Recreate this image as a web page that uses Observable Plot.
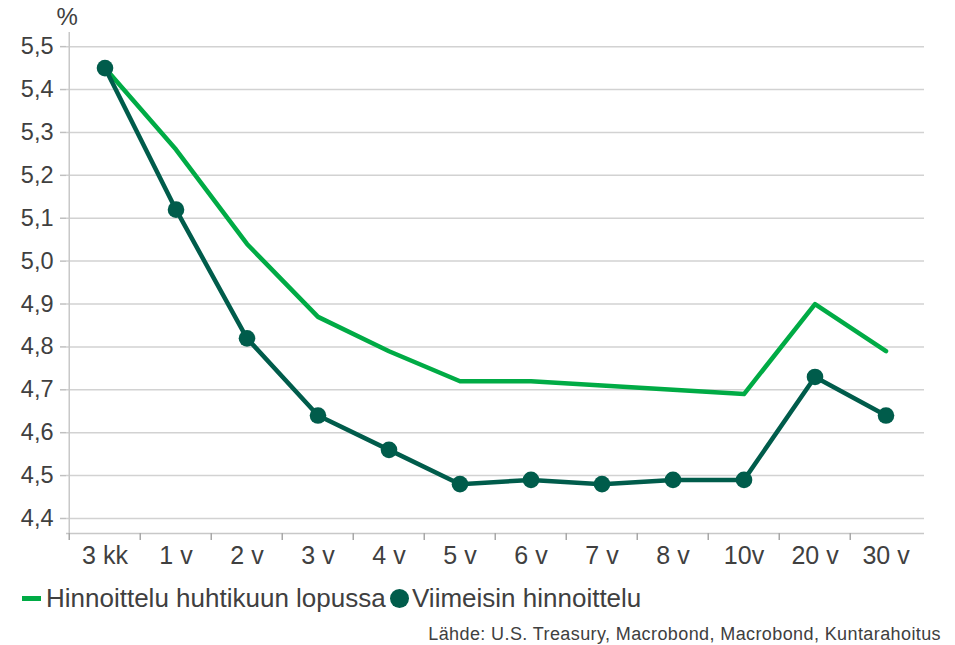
<!DOCTYPE html>
<html><head><meta charset="utf-8">
<script src="https://cdn.jsdelivr.net/npm/d3@7"></script>
<script src="https://cdn.jsdelivr.net/npm/@observablehq/plot@0.6"></script>
<style>
body{margin:0;background:#fff;font-family:"Liberation Sans",Arial,sans-serif;}
#wrap{position:relative;width:955px;height:645px;overflow:hidden;}
#chart{position:absolute;left:0;top:0;}
.leg{position:absolute;top:583px;font-size:26px;color:#404040;white-space:nowrap;line-height:30px;}
#sw1{position:absolute;left:22px;top:596px;width:19px;height:5px;background:#00ab45;}
#sw2{position:absolute;left:390px;top:589px;width:19px;height:19px;border-radius:50%;background:#005c4b;}
#source{position:absolute;right:14px;top:624px;font-size:18px;letter-spacing:0.4px;line-height:20px;color:#404040;white-space:nowrap;}
</style></head><body>
<div id="wrap">
<div id="chart"></div>
<div id="sw1"></div><div class="leg" style="left:46px">Hinnoittelu huhtikuun lopussa</div>
<div id="sw2"></div><div class="leg" style="left:412px">Viimeisin hinnoittelu</div>
<div id="source">Lähde: U.S. Treasury, Macrobond, Macrobond, Kuntarahoitus</div>
</div>
<script>
const maturities = ["3 kk","1 v","2 v","3 v","4 v","5 v","6 v","7 v","8 v","10v","20 v","30 v"];
const lateApril = [5.45,5.26,5.04,4.87,4.79,4.72,4.72,4.71,4.70,4.69,4.90,4.79];
const latest = [5.45,5.12,4.82,4.64,4.56,4.48,4.49,4.48,4.49,4.49,4.73,4.64];
const yTicks = [4.4,4.5,4.6,4.7,4.8,4.9,5.0,5.1,5.2,5.3,5.4,5.5];
const yMin = 4.365, yMax = 5.533;

const W = 955, mL = 66, mR = 31;
const bw = (W - mL - mR) / maturities.length;
const fmt = d => d.toFixed(1).replace(".", ",");
const text = "#404040";
const light = "#00ab45", dark = "#005c4b";

const aprilData = maturities.map((m, i) => ({m, v: lateApril[i]}));
const latestData = maturities.map((m, i) => ({m, v: latest[i]}));

const chart = Plot.plot({
  width: W, height: 575,
  marginLeft: mL, marginRight: mR, marginTop: 32, marginBottom: 42,
  style: {fontFamily: "'Liberation Sans', Arial, sans-serif", background: "#fff"},
  x: {type: "band", domain: maturities, padding: 0, axis: null},
  y: {domain: [yMin, yMax], axis: null},
  marks: [
    Plot.ruleY(yTicks, {stroke: "#d2d2d2", strokeWidth: 1.5}),
    Plot.ruleY([yMin], {stroke: "#c8c8c8", strokeWidth: 1.5}),
    Plot.ruleX([maturities[0]], {dx: -bw / 2, stroke: "#c8c8c8", strokeWidth: 1.5}),
    Plot.axisY(yTicks, {label: null, tickSize: 6, tickPadding: 7, tickFormat: fmt, fontSize: 23.5, stroke: "#c0c0c0", fill: text, strokeWidth: 1.5}),
    Plot.axisX({label: null, tickSize: 7, dx: -bw / 2, tickFormat: () => "", stroke: "#a8a8a8", strokeWidth: 1.5}),
    Plot.axisX({label: null, tickSize: 0, tickPadding: 13, fontSize: 25, fill: text}),
    Plot.text(["%"], {frameAnchor: "top-left", textAnchor: "start", lineAnchor: "top", dx: -10, dy: -25, fontSize: 24, fill: text}),
    Plot.line(aprilData, {x: "m", y: "v", stroke: light, strokeWidth: 4.5}),
    Plot.line(latestData, {x: "m", y: "v", stroke: dark, strokeWidth: 4.5}),
    Plot.dot(latestData, {x: "m", y: "v", r: 8.3, fill: dark})
  ]
});
document.getElementById("chart").appendChild(chart);
</script>
</body></html>
